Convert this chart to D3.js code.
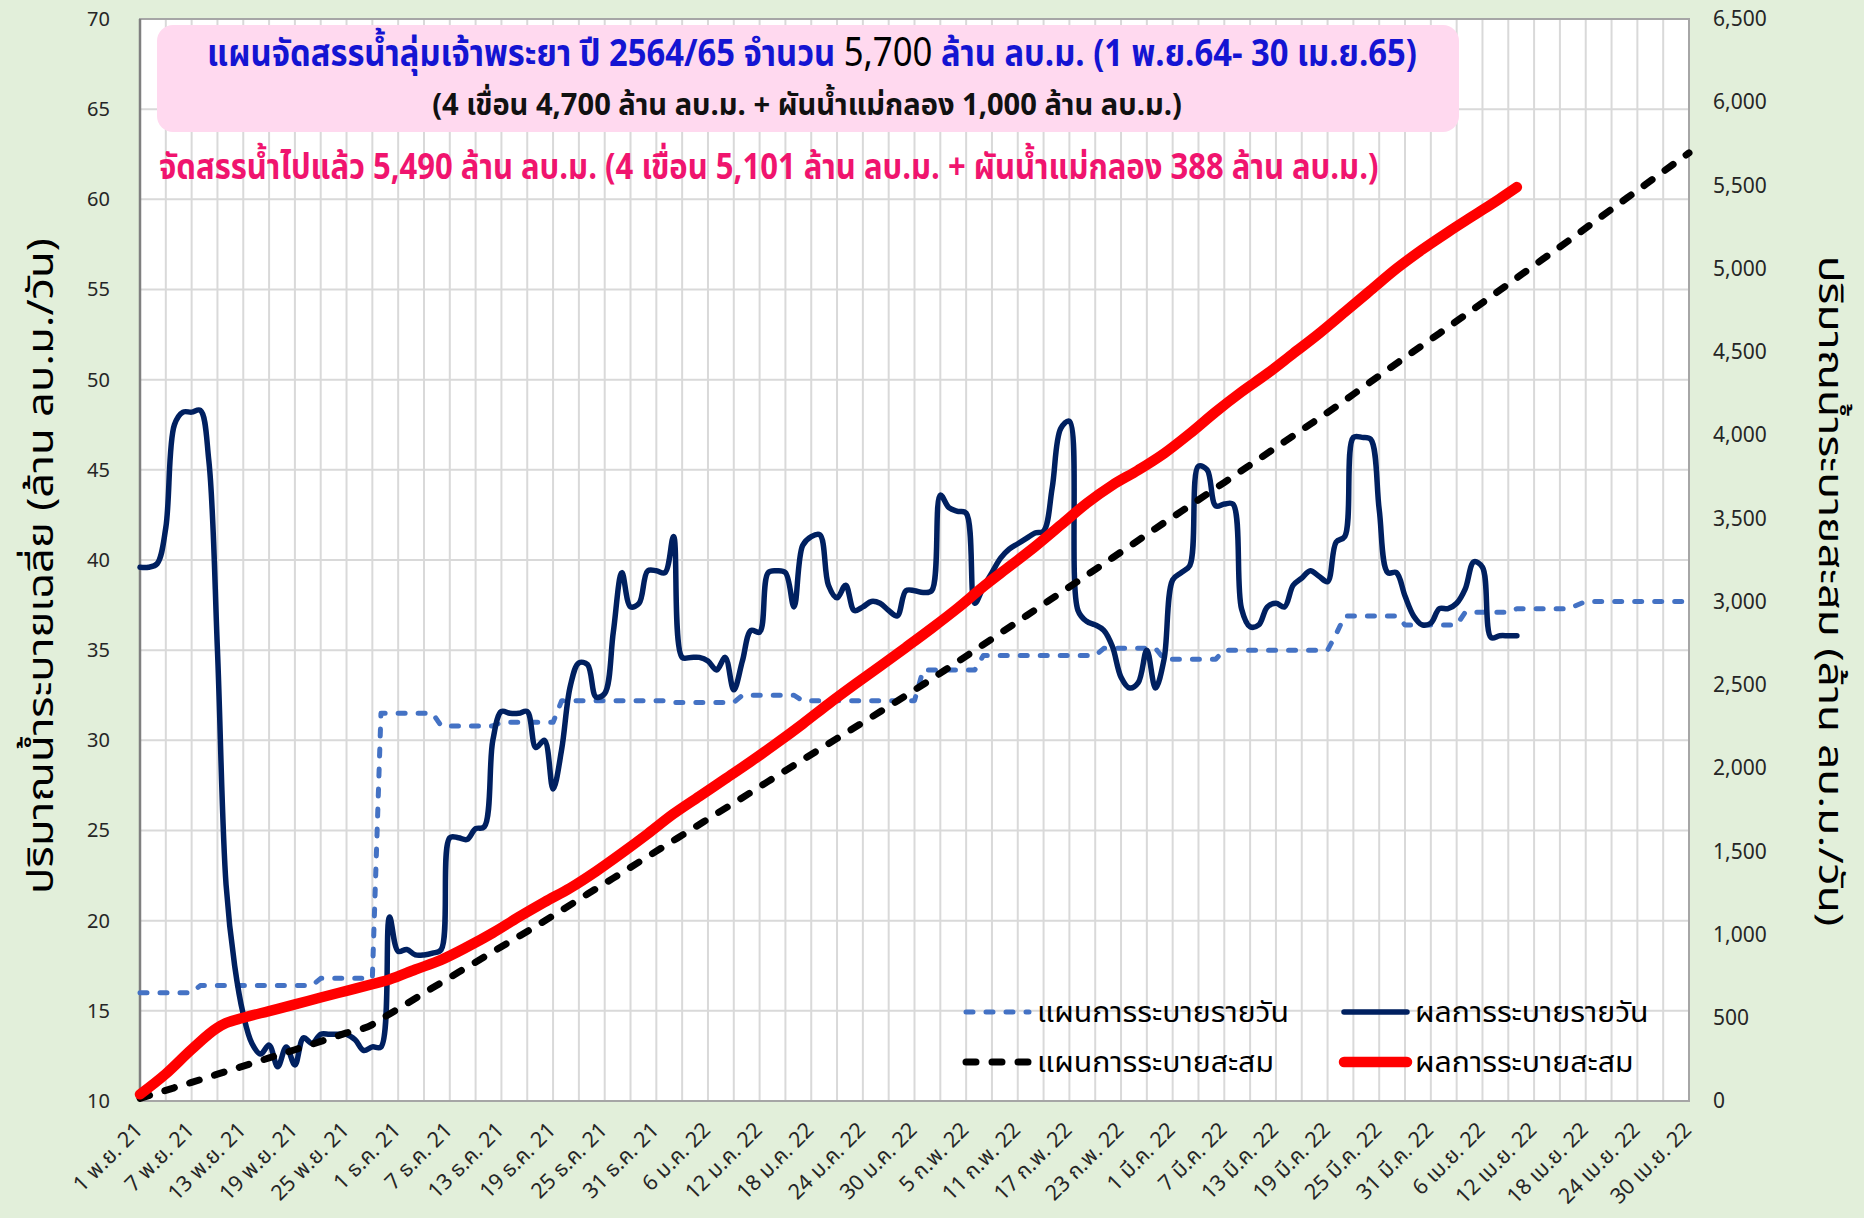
<!DOCTYPE html>
<html>
<head>
<meta charset="utf-8">
<script src="https://cdn.jsdelivr.net/npm/d3@7"></script>
<style>
  html, body { margin: 0; padding: 0; background: #E2EFDA; }
  svg { display: block; }
  text { font-family: Tahoma, "Leelawadee UI", "Noto Sans Thai", "Noto Sans Thai UI", Loma, Garuda, "Noto Sans", sans-serif; }
</style>
</head>
<body>
<svg id="chart" width="1864" height="1218"></svg>
<script>
// ---- Data: day offsets counted from 1 Nov 2021 (day 0) to 30 Apr 2022 (day 180) ----
const xTickLabels = [
  "1 พ.ย. 21","7 พ.ย. 21","13 พ.ย. 21","19 พ.ย. 21","25 พ.ย. 21",
  "1 ธ.ค. 21","7 ธ.ค. 21","13 ธ.ค. 21","19 ธ.ค. 21","25 ธ.ค. 21","31 ธ.ค. 21",
  "6 ม.ค. 22","12 ม.ค. 22","18 ม.ค. 22","24 ม.ค. 22","30 ม.ค. 22",
  "5 ก.พ. 22","11 ก.พ. 22","17 ก.พ. 22","23 ก.พ. 22",
  "1 มี.ค. 22","7 มี.ค. 22","13 มี.ค. 22","19 มี.ค. 22","25 มี.ค. 22","31 มี.ค. 22",
  "6 เม.ย. 22","12 เม.ย. 22","18 เม.ย. 22","24 เม.ย. 22","30 เม.ย. 22"
];
const xTickDays = [0,6,12,18,24,30,36,42,48,54,60,66,72,78,84,90,96,102,108,114,120,126,132,138,144,150,156,162,168,174,180];
const leftTicks = [10,15,20,25,30,35,40,45,50,55,60,65,70];
const rightTicks = [0,500,1000,1500,2000,2500,3000,3500,4000,4500,5000,5500,6000,6500];

// Daily release plan (million m3/day): [day, value] break points
const planDaily = [
  [0,16.0],[6,16.0],[7,16.4],[20,16.4],[21,16.8],[27,16.8],[28,31.5],[34,31.5],
  [35,30.8],[41,30.8],[42,31.0],[48,31.0],[49,32.2],[61,32.2],[62,32.1],[69,32.1],
  [70,32.5],[76,32.5],[77,32.2],[90,32.2],[91,33.9],[97,33.9],[98,34.7],[111,34.7],
  [112,35.1],[118,35.1],[119,34.5],[125,34.5],[126,35.0],[138,35.0],[139,35.9],[140,36.9],
  [146,36.9],[147,36.4],[153,36.4],[154,37.1],[159,37.1],[160,37.3],[166,37.3],[168,37.7],[180,37.7]
];

// Daily actual release (million m3/day), one value per day from day 0 to day 160
const actualDaily = [
  39.6,39.6,39.8,41.8,47.5,48.2,48.2,48.3,45.5,35.0,
  22.0,17.5,14.8,13.2,12.6,13.1,11.9,13.0,12.0,13.5,
  13.2,13.7,13.7,13.7,13.7,13.4,12.8,13.0,13.0,20.2,
  18.3,18.4,18.1,18.1,18.2,18.4,24.6,24.6,24.5,25.1,
  25.2,30.0,31.6,31.5,31.5,31.6,29.6,30.0,27.3,29.5,
  33.0,34.3,34.2,32.4,32.6,36.0,39.3,37.4,37.6,39.4,
  39.4,39.3,41.3,34.6,34.6,34.6,34.4,33.9,34.6,32.8,
  34.4,36.1,36.0,39.3,39.4,39.3,37.4,40.8,41.3,41.4,
  38.6,37.9,38.6,37.2,37.4,37.7,37.6,37.2,36.9,38.3,
  38.3,38.2,38.3,43.6,42.9,42.7,42.6,37.6,38.5,39.3,
  40.1,40.6,40.9,41.2,41.5,41.6,44.0,47.3,47.7,37.2,
  36.6,36.4,36.1,35.2,33.5,32.9,33.2,35.0,32.9,34.5,
  38.9,39.3,39.7,45.2,45.0,43.0,43.1,43.1,37.3,36.3,
  36.4,37.4,37.6,37.4,38.6,39.0,39.4,39.1,38.8,41.0,
  41.3,46.8,46.8,46.7,42.8,39.3,39.3,38.0,36.9,36.4,
  36.5,37.3,37.3,37.6,38.4,39.9,39.6,35.7,35.8,35.8,
  35.8
];

// Cumulative release plan (million m3): [day, value]
const planCumulative = [
  [0,16],[3,64],[6,112],[9,161],[12,210],[15,259],[18,308],[21,358],[24,409],[27,459],
  [28,491],[31,585],[34,680],[37,773],[40,865],[43,958],[46,1050],[49,1146],[52,1243],
  [55,1339],[58,1436],[61,1533],[64,1629],[67,1726],[70,1822],[73,1920],[76,2017],
  [79,2114],[82,2210],[85,2306],[88,2403],[91,2502],[94,2604],[97,2707],[100,2811],
  [103,2915],[106,3019],[109,3123],[112,3228],[115,3333],[118,3439],[121,3542],[124,3646],
  [127,3751],[130,3856],[133,3961],[136,4066],[139,4172],[142,4283],[145,4394],[148,4503],
  [151,4612],[154,4722],[157,4833],[160,4945],[163,5057],[166,5168],[169,5282],[172,5395],
  [175,5508],[178,5621],[180,5696]
];

// Cumulative actual release (million m3): [day, value]
const actualCumulative = [
  [0,40],[3,163],[6,310],[9,440],[10,468],[12,500],[15,540],[18,580],[21,622],[24,662],
  [27,702],[29,730],[32,790],[35,848],[38,925],[41,1010],[44,1105],[47,1195],[50,1280],
  [53,1380],[56,1490],[59,1605],[62,1725],[65,1830],[68,1935],[71,2040],[74,2150],
  [77,2265],[80,2385],[83,2500],[86,2612],[89,2725],[92,2840],[95,2960],[98,3090],
  [101,3210],[104,3330],[107,3460],[110,3590],[113,3700],[116,3790],[119,3890],[122,4010],
  [125,4140],[128,4260],[131,4370],[134,4490],[137,4610],[140,4740],[143,4870],[146,5000],
  [149,5115],[152,5220],[155,5320],[158,5420],[160,5490]
];

const legendItems = [
  { label: "แผนการระบายรายวัน", kind: "planDaily" },
  { label: "ผลการระบายรายวัน", kind: "actualDaily" },
  { label: "แผนการระบายสะสม", kind: "planCum" },
  { label: "ผลการระบายสะสม", kind: "actualCum" }
];

// ---- Layout ----
const W = 1864, H = 1218;
const plot = { left: 140, right: 1689, top: 19, bottom: 1101 };

const styles = {
  planDaily:   { stroke: "#4472C4", width: 5,    dash: "7,13" },
  actualDaily: { stroke: "#002060", width: 5.5,  dash: null },
  planCum:     { stroke: "#000000", width: 7,    dash: "10,16" },
  actualCum:   { stroke: "#FF0000", width: 10.5, dash: null }
};

const svg = d3.select("#chart");

const x  = d3.scaleLinear().domain([0, 180]).range([plot.left, plot.right]);
const yL = d3.scaleLinear().domain([10, 70]).range([plot.bottom, plot.top]);
const yR = d3.scaleLinear().domain([0, 6500]).range([plot.bottom, plot.top]);

// Fit a text horizontally (keeping its height) so it spans the given width
function condense(sel, width, tx, ty, rot) {
  const w = sel.node().getComputedTextLength();
  const k = width / w;
  sel.attr("x", 0).attr("y", 0)
    .attr("transform", `translate(${tx},${ty})${rot ? ` rotate(${rot})` : ""} scale(${k},1)`);
}

svg.append("rect").attr("width", W).attr("height", H).attr("fill", "#E2EFDA");
svg.append("rect")
  .attr("x", plot.left).attr("y", plot.top)
  .attr("width", plot.right - plot.left).attr("height", plot.bottom - plot.top)
  .attr("fill", "#FFFFFF");

// Gridlines
const grid = svg.append("g").attr("stroke", "#D9D9D9").attr("stroke-width", 2);
grid.selectAll("line.v").data(d3.range(0, 181, 3)).join("line")
  .attr("x1", d => x(d)).attr("x2", d => x(d))
  .attr("y1", plot.top).attr("y2", plot.bottom);
grid.selectAll("line.h").data(leftTicks).join("line")
  .attr("x1", plot.left).attr("x2", plot.right)
  .attr("y1", d => yL(d)).attr("y2", d => yL(d));

// Plot frame
svg.append("rect")
  .attr("x", plot.left).attr("y", plot.top)
  .attr("width", plot.right - plot.left).attr("height", plot.bottom - plot.top)
  .attr("fill", "none").attr("stroke", "#A6A6A6").attr("stroke-width", 2);
svg.append("line")
  .attr("x1", plot.left).attr("x2", plot.left).attr("y1", plot.top).attr("y2", plot.bottom)
  .attr("stroke", "#7F7F7F").attr("stroke-width", 2.5);

// Axes
const axL = svg.append("g").attr("transform", `translate(${plot.left},0)`)
  .call(d3.axisLeft(yL).tickValues(leftTicks).tickSize(0).tickPadding(30));
const axR = svg.append("g").attr("transform", `translate(${plot.right},0)`)
  .call(d3.axisRight(yR).tickValues(rightTicks).tickSize(0).tickPadding(24).tickFormat(d3.format(",")));
const axB = svg.append("g").attr("transform", `translate(0,${plot.bottom})`)
  .call(d3.axisBottom(x).tickValues(xTickDays).tickSize(0).tickFormat((d, i) => xTickLabels[i]));
[axL, axR, axB].forEach(a => {
  a.select(".domain").remove();
  a.attr("font-family", null);
  a.selectAll("text").attr("fill", "#262626");
});
axL.selectAll("text").attr("font-size", 20);
axR.selectAll("text").attr("font-size", 21);
axB.selectAll("text")
  .attr("font-size", 21.5)
  .attr("x", 0).attr("y", 0).attr("dy", "0.35em")
  .attr("text-anchor", "end")
  .attr("transform", "translate(-2,25) rotate(-45)");

// Series
const lineDaily = d3.line().x(d => x(d[0])).y(d => yL(d[1]));
const lineCum   = d3.line().x(d => x(d[0])).y(d => yR(d[1])).curve(d3.curveMonotoneX);
const lineActualDaily = d3.line().x((d, i) => x(i)).y(d => yL(d)).curve(d3.curveCatmullRom.alpha(0.5));

function drawPath(gen, data, st) {
  svg.append("path").datum(data).attr("d", gen)
    .attr("fill", "none").attr("stroke", st.stroke).attr("stroke-width", st.width)
    .attr("stroke-linecap", "round").attr("stroke-linejoin", "round")
    .attr("stroke-dasharray", st.dash);
}
drawPath(lineDaily, planDaily, styles.planDaily);
drawPath(lineActualDaily, actualDaily, styles.actualDaily);
drawPath(lineCum, planCumulative, styles.planCum);
drawPath(lineCum, actualCumulative, styles.actualCum);

// Legend
const legendPos = [
  { x: 963, y: 1012 }, { x: 1341, y: 1012 },
  { x: 963, y: 1062 }, { x: 1341, y: 1062 }
];
const legend = svg.append("g");
let legendScale = null;
legendItems.forEach((item, i) => {
  const p = legendPos[i], st = styles[item.kind];
  legend.append("line")
    .attr("x1", p.x + 3).attr("x2", p.x + 66).attr("y1", p.y).attr("y2", p.y)
    .attr("stroke", st.stroke).attr("stroke-width", st.width)
    .attr("stroke-linecap", "round").attr("stroke-dasharray", st.dash);
  const t = legend.append("text")
    .attr("dy", "0.34em").attr("font-size", 28).attr("fill", "#000").text(item.label);
  if (legendScale === null) legendScale = 252 / t.node().getComputedTextLength();
  t.attr("transform", `translate(${p.x + 74},${p.y}) scale(${legendScale},1)`);
});

// Title box
svg.append("rect")
  .attr("x", 157).attr("y", 25).attr("width", 1302).attr("height", 107)
  .attr("rx", 16).attr("ry", 16).attr("fill", "#FFD9EF");

const t1 = svg.append("text")
  .attr("text-anchor", "middle").attr("font-size", 37).attr("font-weight", "bold").attr("fill", "#1414D2");
t1.append("tspan").text("แผนจัดสรรน้ำลุ่มเจ้าพระยา ปี 2564/65 จำนวน ");
t1.append("tspan").attr("fill", "#000").attr("font-weight", "normal").attr("font-size", "1.06em").text("5,700");
t1.append("tspan").text(" ล้าน ลบ.ม. (1 พ.ย.64- 30 เม.ย.65)");
condense(t1, 1210, 812, 66);

const t2 = svg.append("text")
  .attr("text-anchor", "middle").attr("font-size", 30).attr("font-weight", "bold").attr("fill", "#111")
  .text("(4 เขื่อน 4,700 ล้าน ลบ.ม. + ผันน้ำแม่กลอง 1,000 ล้าน ลบ.ม.)");
condense(t2, 750, 807, 115);

const t3 = svg.append("text")
  .attr("font-size", 35).attr("font-weight", "bold").attr("fill", "#F0146E")
  .text("จัดสรรน้ำไปแล้ว 5,490 ล้าน ลบ.ม. (4 เขื่อน 5,101 ล้าน ลบ.ม. + ผันน้ำแม่กลอง 388 ล้าน ลบ.ม.)");
condense(t3, 1220, 159, 179);

// Axis titles
const yt1 = svg.append("text")
  .attr("text-anchor", "middle").attr("dominant-baseline", "central")
  .attr("font-size", 36).attr("fill", "#000")
  .text("ปริมาณน้ำระบายเฉลี่ย (ล้าน ลบ.ม./วัน)");
condense(yt1, 656, 42, 566, -90);

const yt2 = svg.append("text")
  .attr("text-anchor", "middle").attr("dominant-baseline", "central")
  .attr("font-size", 33).attr("fill", "#000")
  .text("ปริมาณน้ำระบายสะสม (ล้าน ลบ.ม./วัน)");
condense(yt2, 671, 1829, 591, 90);
</script>
</body>
</html>
